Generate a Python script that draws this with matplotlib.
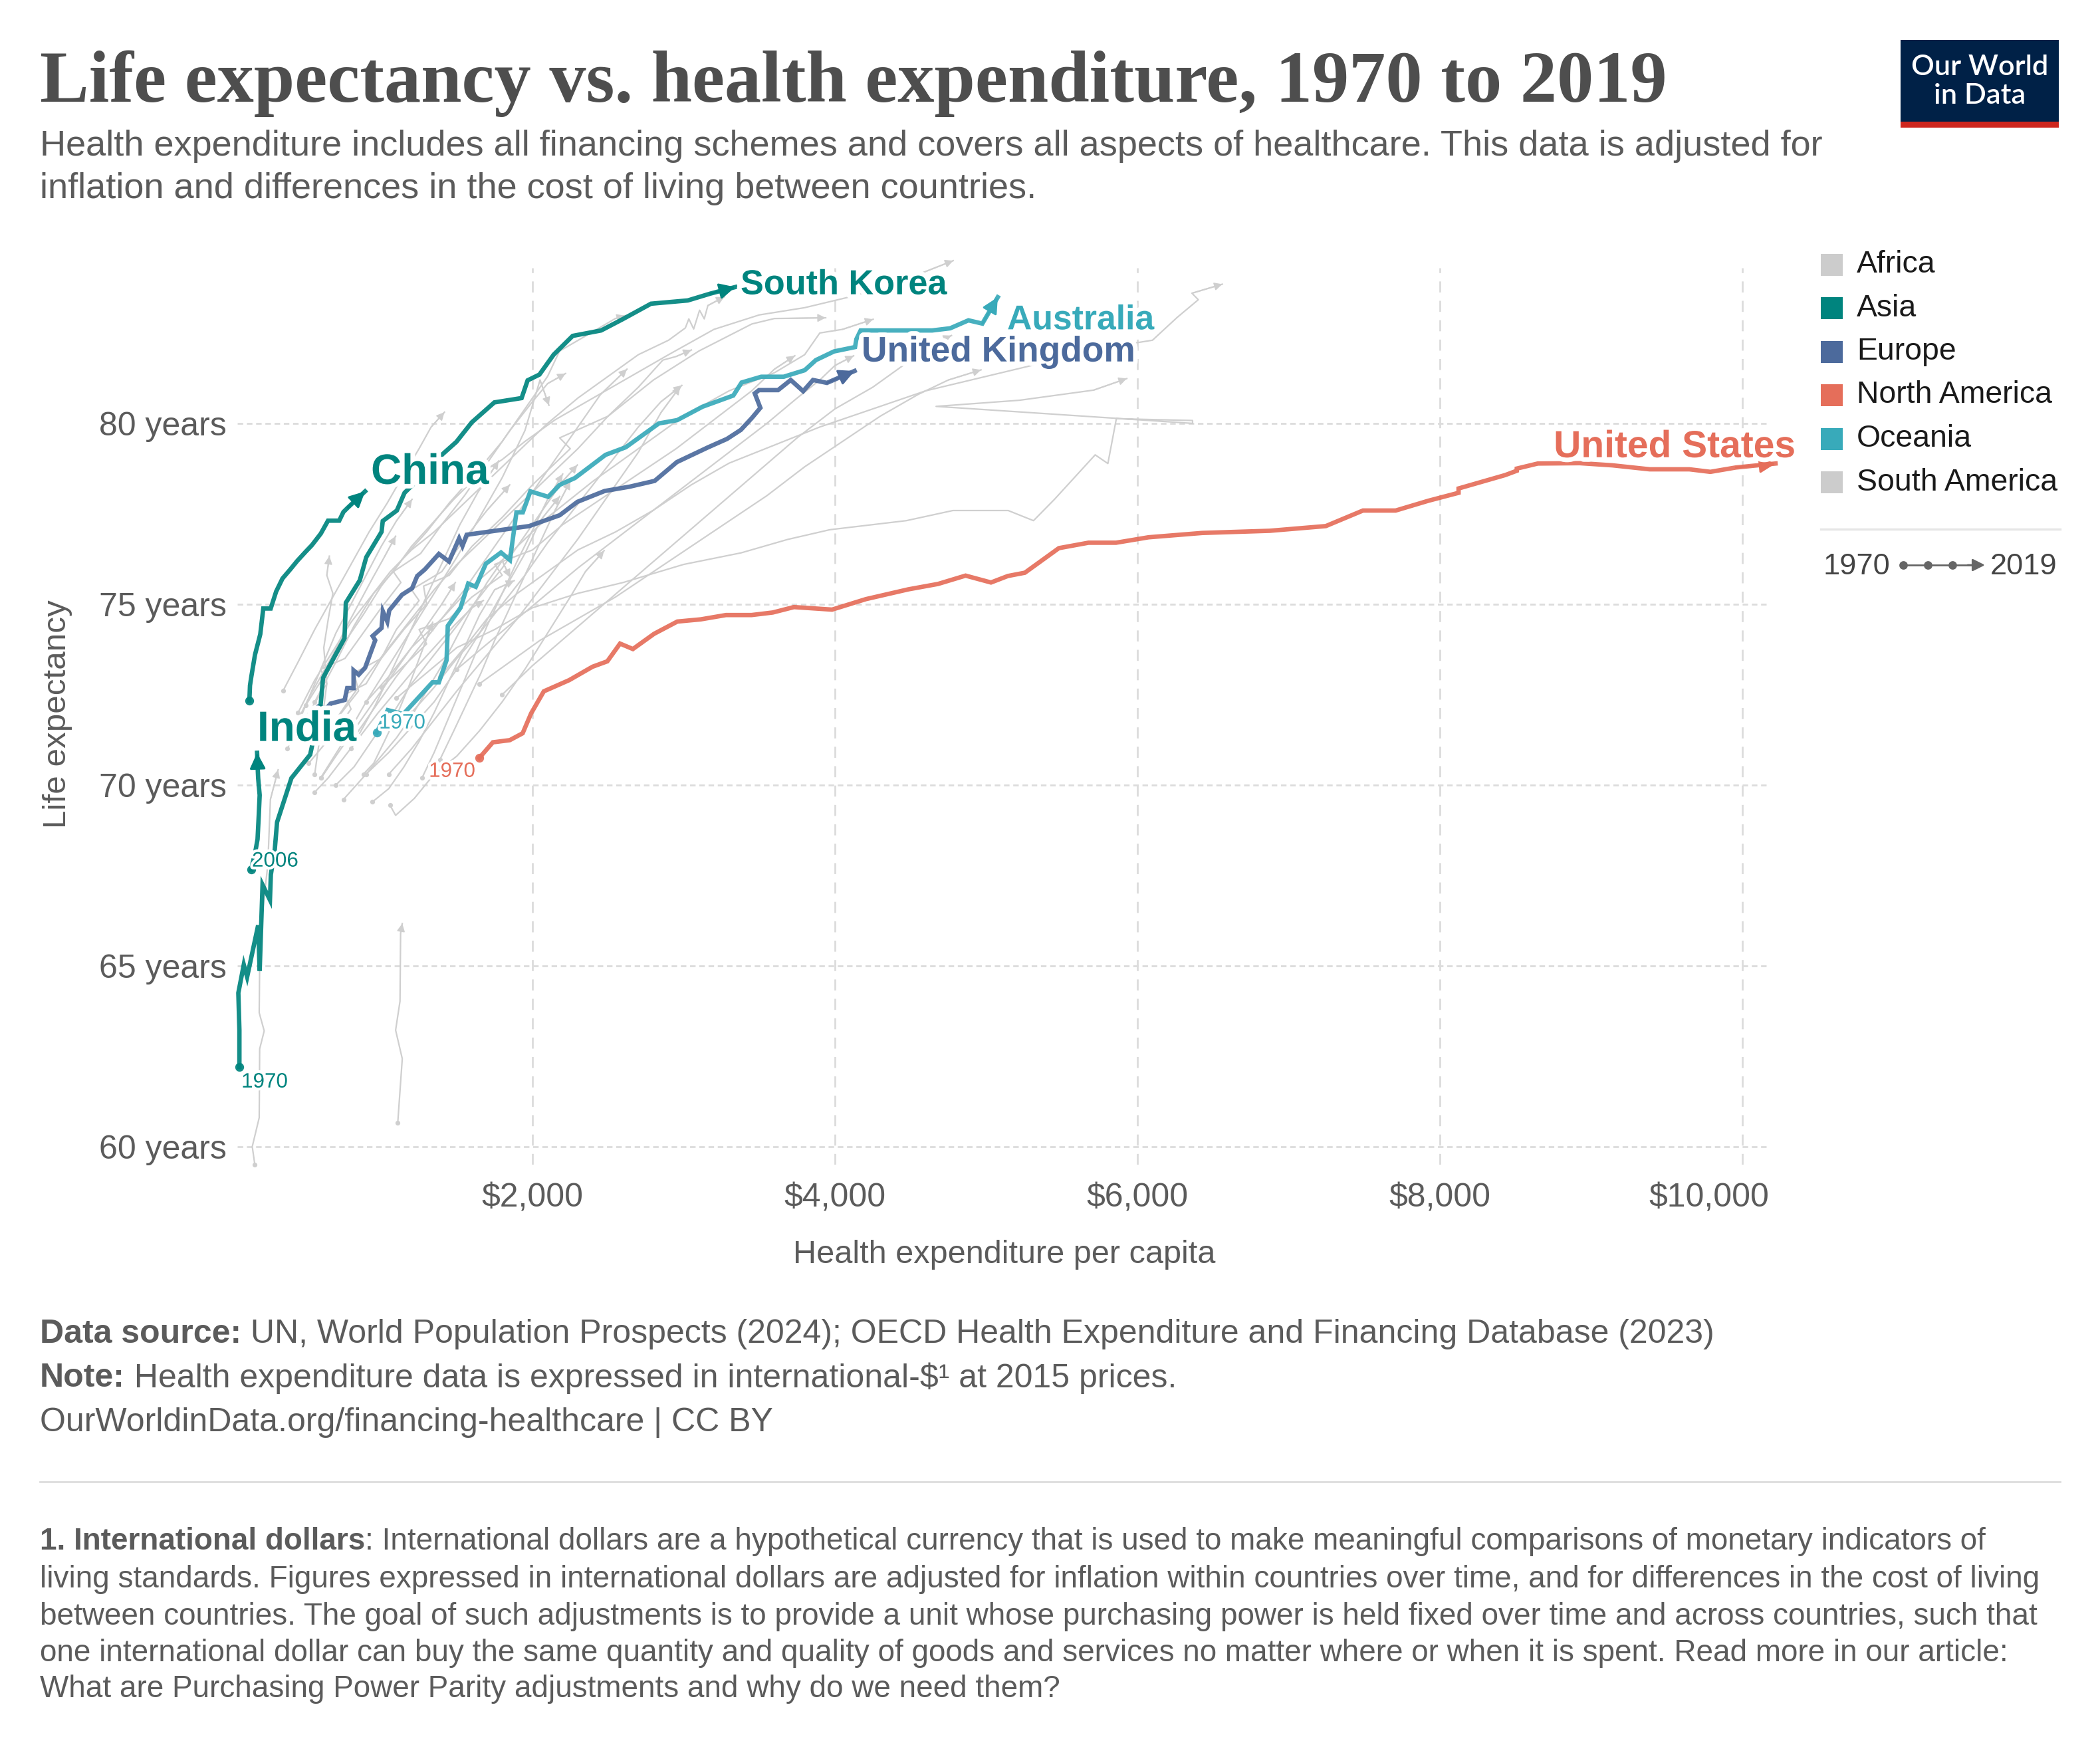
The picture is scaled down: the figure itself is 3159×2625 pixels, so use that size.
import matplotlib
matplotlib.use('Agg')
import matplotlib.pyplot as plt
from matplotlib.patches import Rectangle
from matplotlib.transforms import ScaledTranslation
import matplotlib.patheffects as pe

plt.rcParams['font.family'] = ['Liberation Sans', 'DejaVu Sans']
plt.rcParams['text.parse_math'] = False

# ---------------- data ----------------
X_TICKS = [2000, 4000, 6000, 8000, 10000]
X_TICK_LABELS = ['$2,000', '$4,000', '$6,000', '$8,000', '$10,000']
Y_TICKS = [60, 65, 70, 75, 80]

LEGEND_LABELS = ['Africa', 'Asia', 'Europe', 'North America', 'Oceania', 'South America']
LEGEND_COLORS = ['#cccccc', '#00847e', '#4c6a9c', '#e56e5a', '#38aaba', '#cccccc']

SK_X = [62, 62, 55, 91, 113, 186, 196, 215, 264, 270, 296, 311, 406, 530, 598, 615, 757, 766, 858, 901,
        1002, 1010, 1103, 1154, 1280, 1406, 1497, 1599, 1748, 1928, 1968, 2046, 2140, 2266, 2454, 2596,
        2784, 3027, 3177, 3341]
SK_Y = [62.2, 63.22, 64.25, 65.03, 64.69, 66.12, 64.86, 67.24, 66.82, 67.52, 68.22, 68.97, 70.19, 70.84,
        72.16, 72.96, 74.06, 75.04, 75.66, 76.3, 77.0, 77.3, 77.59, 78.08, 78.6, 79.15, 79.49, 80.03,
        80.58, 80.7, 81.19, 81.35, 81.9, 82.42, 82.57, 82.88, 83.31, 83.4, 83.59, 83.77]

CN_X = [128, 132, 141, 165, 200, 220, 269, 305, 347, 400, 445, 500, 541, 600, 648, 722, 750, 779, 893]
CN_Y = [72.33, 72.75, 73.0, 73.6, 74.17, 74.88, 74.88, 75.35, 75.71, 75.97, 76.2, 76.45, 76.63, 76.95,
        77.31, 77.31, 77.55, 77.67, 78.12]

IN_X = [142, 150, 164, 182, 190, 196, 190, 186, 182, 179]
IN_Y = [67.66, 67.85, 68.08, 68.5, 69.16, 69.72, 70.0, 70.19, 70.56, 70.89]

UK_X = [590, 640, 665, 758, 775, 817, 817, 851, 893, 960, 943, 1002, 1011, 1040, 1053, 1137, 1204, 1238,
        1288, 1381, 1448, 1515, 1537, 1565, 1978, 2180, 2297, 2477, 2643, 2808, 2955, 3157, 3286, 3378,
        3451, 3507, 3470, 3498, 3624, 3708, 3790, 3855, 3947, 4130]
UK_Y = [72.13, 72.13, 72.25, 72.35, 72.68, 72.68, 73.17, 73.05, 73.24, 74.0, 74.12, 74.34, 74.8, 74.52,
        74.83, 75.26, 75.44, 75.78, 75.96, 76.39, 76.18, 76.82, 76.61, 76.92, 77.16, 77.46, 77.83, 78.13,
        78.25, 78.41, 78.93, 79.33, 79.57, 79.82, 80.15, 80.43, 80.83, 80.92, 80.92, 81.2, 80.89, 81.2,
        81.12, 81.45]

AU_X = [970, 1043, 1146, 1339, 1381, 1432, 1440, 1524, 1575, 1625, 1692, 1792, 1851, 1894, 1936, 1986,
        2104, 2180, 2281, 2483, 2617, 2836, 2957, 3124, 3328, 3383, 3513, 3661, 3800, 3874, 3994, 4133,
        4142, 4170, 4643, 4762, 4883, 4975, 5077]
AU_Y = [71.45, 72.07, 71.96, 72.84, 72.84, 73.45, 74.4, 74.9, 75.57, 75.48, 76.12, 76.43, 76.22, 77.54,
        77.54, 78.12, 77.97, 78.3, 78.49, 79.13, 79.34, 80.0, 80.09, 80.46, 80.77, 81.13, 81.29, 81.29,
        81.47, 81.75, 81.99, 82.11, 82.33, 82.57, 82.57, 82.63, 82.85, 82.76, 83.49]

US_X = [1649, 1738, 1850, 1935, 1991, 2075, 2243, 2397, 2495, 2579, 2664, 2804, 2958, 3112, 3280, 3449,
        3589, 3729, 3981, 4205, 4485, 4682, 4864, 5032, 5144, 5256, 5481, 5677, 5859, 6074, 6429, 6876,
        7246, 7492, 7708, 7924, 8124, 8124, 8432, 8509, 8509, 8648, 8925, 9141, 9388, 9650, 9789, 9958,
        10220]
US_Y = [70.75, 71.18, 71.24, 71.43, 71.98, 72.59, 72.9, 73.27, 73.42, 73.91, 73.76, 74.18, 74.52, 74.58,
        74.7, 74.7, 74.77, 74.92, 74.85, 75.14, 75.41, 75.56, 75.79, 75.6, 75.78, 75.87, 76.55, 76.7,
        76.7, 76.85, 76.97, 77.03, 77.16, 77.59, 77.59, 77.86, 78.08, 78.2, 78.57, 78.69, 78.75, 78.89,
        78.9, 78.84, 78.73, 78.73, 78.66, 78.78, 78.89]

# background (grey) countries
GRAY_X = [
    [560, 700, 820, 950, 1080, 1200, 1330, 1480, 1650, 1800, 1950, 2150, 2400, 2650, 2900, 3200, 3500, 3800, 4100, 4350, 4557, 4782],
    [1390, 1550, 1700, 1900, 2100, 2300, 2550, 2800, 3050, 3300, 3600, 3900, 4250, 4600, 5000, 5400, 5800, 6100, 6263, 6403, 6361, 6562],
    [1100, 1300, 1500, 1750, 2000, 2300, 2600, 3000, 3380, 3687, 3967, 4472, 4780, 5146, 5313, 5452, 5721, 5805, 5861, 6365, 6365, 4669, 5221, 5711, 5930],
    [450, 560, 680, 800, 930, 1060, 1200, 1350, 1500, 1650, 1800, 1950, 2100, 2300, 2500, 2700, 2900, 3011, 3034, 3066, 3105, 3136, 3160, 3269],
    [700, 850, 820, 1000, 1150, 1300, 1280, 1450, 1600, 1800, 2000, 2250, 2180, 2500, 2800, 3100, 3451, 3600, 3939],
    [900, 1050, 1200, 1400, 1600, 1850, 2100, 2400, 2700, 3000, 3300, 3600, 3800, 3900, 4050, 4253],
    [500, 620, 750, 880, 1000, 1150, 1300, 1450, 1620, 1800, 1950, 2100, 2179, 2344, 2548, 2611],
    [650, 780, 900, 1050, 1200, 1350, 1500, 1700, 1900, 2100, 2300, 2500, 2700, 2862, 2950, 3051],
    [400, 520, 640, 600, 760, 880, 1000, 1130, 1080, 1260, 1400, 1550, 1700, 1850, 2000, 2100, 2219],
    [1200, 1350, 1500, 1650, 1800, 1950, 2100, 2250, 2400, 2550, 2700, 2850, 2988],
    [1000, 1150, 1300, 1250, 1450, 1600, 1800, 1750, 2000, 2200, 2450, 2700, 2950, 3200, 3450, 3600, 3735],
    [1500, 1700, 1900, 2100, 2300, 2550, 2800, 3050, 3300, 3550, 3750, 3900, 4000, 4124],
    [1800, 2000, 2250, 2500, 2750, 3000, 3250, 3500, 3750, 4000, 4250, 4450, 4600, 4771],
    [1650, 1850, 2050, 2300, 2550, 2800, 3050, 3300, 3550, 3800, 4050, 4300, 4550, 4750, 4966],
    [800, 950, 1100, 1250, 1400, 1550, 1700, 1850, 2000, 2150, 2300, 2450, 2625],
    [1050, 1200, 1350, 1500, 1700, 1900, 2100, 2300, 2500, 2700, 2850, 2977],
    [600, 750, 900, 1050, 1200, 1350, 1500, 1650, 1800, 1950, 2050, 2109],
    [350, 450, 560, 680, 800, 920, 1040, 1150, 1250, 1330, 1418],
    [700, 820, 950, 1080, 1200, 1350, 1500, 1650, 1800, 1950, 2100, 2200, 2297],
    [750, 900, 1050, 1200, 1350, 1500, 1650, 1800, 1950, 2050, 2180],
    [1058, 1095, 1219, 1350, 1500, 1650, 1800, 1950, 2100, 2250, 2350, 2474],
    [900, 1000, 1100, 1200, 1300, 1400, 1500, 1600, 1700, 1800, 1852],
    [560, 650, 760, 870, 980, 1100, 1220, 1350, 1480, 1600, 1675],
    [450, 520, 600, 680, 760, 850, 940, 1020, 1095],
    [380, 460, 540, 620, 700, 800, 900, 1000, 1100, 1204],
    [560, 600, 640, 620, 650, 680, 640, 657],
    [164, 147, 193, 196, 226, 193, 196, 215, 250, 267, 318],
    [1109, 1139, 1095, 1124, 1128, 1139],
    [520, 600, 700, 800, 760, 900, 1000, 1100, 1250, 1200, 1400, 1550, 1700, 1850],
    [800, 880, 960, 1040, 1130, 1220, 1320, 1420, 1520, 1640, 1776],
    [1270, 1350, 1430, 1520, 1610, 1700, 1800, 1900, 1995, 2100, 2200],
    [1388, 1480, 1570, 1660, 1750, 1850, 1950, 2050, 2150, 2250],
    [604, 700, 800, 900, 1000, 1100, 1200, 1300, 1400, 1490],
    [882, 950, 1020, 1100, 1180, 1260, 1340],
    [941, 1050, 1150, 1250, 1350, 1450, 1550, 1650, 1750, 1879],
]
GRAY_Y = [
    [72.3, 73.4, 74.4, 75.3, 75.9, 76.6, 77.2, 77.9, 78.6, 79.0, 79.5, 80.1, 80.7, 81.3, 81.9, 82.6, 83.0, 83.2, 83.5, 83.8, 84.13, 84.5],
    [73.0, 73.8, 74.6, 75.3, 75.9, 76.5, 77.0, 77.6, 78.3, 78.9, 79.4, 79.9, 80.4, 80.9, 81.3, 81.7, 82.1, 82.3, 82.93, 83.42, 83.6, 83.85],
    [72.4, 73.1, 73.8, 74.3, 74.9, 75.3, 75.6, 76.1, 76.42, 76.79, 77.06, 77.31, 77.59, 77.59, 77.31, 77.9, 79.13, 78.89, 80.13, 80.08, 80.0, 80.47, 80.64, 80.92, 81.24],
    [72.0, 72.9, 73.7, 74.5, 75.2, 75.9, 76.5, 77.0, 77.6, 78.2, 78.8, 79.4, 80.0, 80.7, 81.3, 81.9, 82.3, 82.64, 82.89, 82.61, 83.13, 82.89, 83.26, 83.5],
    [71.8, 72.6, 73.1, 73.5, 74.3, 75.0, 75.5, 75.8, 76.6, 77.4, 78.3, 79.3, 79.6, 80.2, 81.2, 82.0, 82.75, 82.9, 82.92],
    [72.3, 73.0, 73.8, 74.6, 75.5, 76.4, 77.4, 78.4, 79.3, 80.2, 80.9, 81.4, 81.9, 82.5, 82.6, 82.88],
    [72.2, 73.0, 73.9, 74.7, 75.5, 76.3, 77.0, 77.8, 78.6, 79.5, 80.4, 81.3, 82.0, 82.4, 82.9, 82.98],
    [71.5, 72.3, 73.0, 73.8, 74.6, 75.4, 76.1, 76.9, 77.7, 78.5, 79.3, 80.2, 81.0, 81.75, 81.85, 82.03],
    [71.3, 72.0, 72.8, 73.2, 73.5, 74.2, 74.9, 75.6, 75.9, 76.4, 77.2, 78.0, 78.9, 79.8, 80.6, 81.1, 81.38],
    [72.0, 72.7, 73.5, 74.2, 75.0, 75.8, 76.7, 77.5, 78.3, 79.1, 79.9, 80.6, 81.05],
    [72.7, 73.3, 73.9, 74.3, 74.6, 75.2, 75.8, 76.1, 76.5, 77.2, 77.9, 78.6, 79.3, 80.1, 80.9, 81.5, 81.87],
    [73.2, 73.9, 74.6, 75.3, 76.0, 76.8, 77.6, 78.4, 79.2, 80.0, 80.7, 81.2, 81.6, 81.87],
    [72.5, 73.3, 74.2, 75.1, 76.0, 76.9, 77.8, 78.7, 79.6, 80.4, 81.0, 81.6, 82.1, 82.43],
    [72.8, 73.4, 74.0, 74.6, 75.2, 75.9, 76.6, 77.3, 78.0, 78.8, 79.5, 80.2, 80.8, 81.2, 81.48],
    [71.2, 72.1, 73.0, 73.8, 74.6, 75.4, 76.3, 77.2, 78.1, 79.0, 79.9, 80.8, 81.5],
    [70.3, 71.0, 71.8, 72.6, 73.6, 74.6, 75.7, 76.8, 78.0, 79.2, 80.3, 81.02],
    [70.2, 71.2, 72.3, 73.3, 74.3, 75.3, 76.3, 77.4, 78.5, 79.8, 81.2, 80.5],
    [72.6, 73.4, 74.3, 75.2, 76.1, 77.0, 77.8, 78.6, 79.3, 79.9, 80.31],
    [70.0, 70.5, 71.3, 72.0, 72.8, 73.6, 74.4, 75.2, 76.0, 76.9, 77.8, 78.4, 78.85],
    [69.6, 70.3, 70.9, 71.6, 72.3, 73.2, 74.2, 75.3, 76.4, 77.3, 77.98],
    [69.44, 69.16, 69.63, 70.3, 70.8, 71.5, 72.3, 73.2, 74.2, 75.2, 75.9, 76.48],
    [70.3, 70.8, 71.3, 71.9, 72.6, 73.3, 74.1, 74.9, 75.6, 76.2, 75.74],
    [69.8, 70.2, 70.8, 71.4, 72.0, 72.6, 73.2, 73.8, 74.4, 74.9, 75.1],
    [71.8, 72.4, 73.0, 73.6, 74.3, 75.0, 75.7, 76.3, 76.88],
    [71.0, 71.8, 72.6, 73.4, 74.2, 75.0, 75.8, 76.6, 77.3, 77.9],
    [70.3, 71.5, 72.8, 73.8, 74.6, 75.3, 75.8, 76.33],
    [59.5, 60.0, 60.8, 62.7, 63.2, 63.7, 65.1, 66.5, 67.8, 69.6, 70.42],
    [60.65, 62.43, 63.22, 64.02, 65.9, 66.17],
    [70.6, 71.0, 71.5, 72.1, 72.5, 72.8, 73.5, 74.3, 75.1, 75.4, 75.9, 76.8, 77.6, 78.3],
    [71.0, 71.6, 72.2, 72.9, 73.7, 74.5, 75.4, 76.3, 77.2, 78.1, 78.96],
    [70.2, 70.9, 71.7, 72.6, 73.5, 74.4, 75.3, 76.2, 77.0, 77.9, 78.6],
    [70.7, 71.5, 72.3, 73.1, 74.0, 74.9, 75.8, 76.7, 77.6, 78.4],
    [70.2, 70.8, 71.4, 72.0, 72.6, 73.2, 73.8, 74.4, 75.0, 75.6],
    [70.3, 70.6, 71.2, 71.9, 72.7, 73.6, 74.5],
    [69.53, 69.9, 70.5, 71.2, 72.0, 72.9, 73.8, 74.7, 75.4, 75.65],
]

# ---------------- layout ----------------
W, H, DPI = 3159, 2625, 200
fig = plt.figure(figsize=(W / DPI, H / DPI), dpi=DPI)
fig.patch.set_facecolor('white')

XMIN, XMAX, YMIN, YMAX = 50, 10180, 59.5, 84.3
L, R, T, B = 357.4, 2661.8, 403, 1752
ax = fig.add_axes([L / W, 1 - B / H, (R - L) / W, (B - T) / H])
ax.set_xlim(XMIN, XMAX)
ax.set_ylim(YMIN, YMAX)
ax.patch.set_alpha(0)
for s in ax.spines.values():
    s.set_visible(False)
ax.tick_params(length=0)
TICK_FS = 18
ax.set_xticks(X_TICKS)
# last label is right-aligned to the plot edge (as in the original)
ax.set_xticklabels(X_TICK_LABELS[:-1] + [''], fontsize=TICK_FS, color='#5b5b5b')
ax.text(XMAX, 0, X_TICK_LABELS[-1], fontsize=TICK_FS, color='#5b5b5b', ha='right', va='top',
        transform=ax.get_xaxis_transform() + ScaledTranslation(0, -10 / 72, fig.dpi_scale_trans))
ax.set_yticks(Y_TICKS)
ax.set_yticklabels([f'{v} years' for v in Y_TICKS], fontsize=TICK_FS, color='#5b5b5b')
ax.tick_params(axis='x', pad=10)
ax.tick_params(axis='y', pad=6)
for v in Y_TICKS:
    ax.axhline(v, color='#dcdcdc', lw=1.0, dashes=(3, 2), zorder=0)
for v in X_TICKS:
    ax.axvline(v, color='#dcdcdc', lw=1.0, dashes=(6, 4.5), zorder=0)

GRAY = '#cfcfcf'


def arrowhead(x0, y0, x1, y1, color, size, lw, z):
    ax.annotate('', xy=(x1, y1), xytext=(x0, y0),
                arrowprops=dict(arrowstyle='-|>', color=color, lw=lw, mutation_scale=size,
                                shrinkA=0, shrinkB=0),
                zorder=z, annotation_clip=False)


for xs, ys in zip(GRAY_X, GRAY_Y):
    ax.plot(xs, ys, color=GRAY, lw=0.8, zorder=1, clip_on=False)
    ax.plot(xs[0], ys[0], 'o', ms=2.6, color=GRAY, mec='none', zorder=1, clip_on=False)
    arrowhead(xs[-2], ys[-2], xs[-1], ys[-1], GRAY, 9, 0.6, 1)

ASIA, EUROPE, NAM, OCE = '#00847e', '#4c6a9c', '#e56e5a', '#38aaba'
HIGHLIGHT = [
    (US_X, US_Y, NAM),
    (UK_X, UK_Y, EUROPE),
    (AU_X, AU_Y, OCE),
    (SK_X, SK_Y, ASIA),
    (CN_X, CN_Y, ASIA),
    (IN_X, IN_Y, ASIA),
]
for xs, ys, col in HIGHLIGHT:
    ax.plot(xs, ys, color=col, lw=2.4, alpha=0.92, zorder=3, clip_on=False,
            solid_joinstyle='miter')
    ax.plot(xs[0], ys[0], 'o', ms=4.8, color=col, mec='none', alpha=0.92, zorder=3, clip_on=False)
    arrowhead(xs[-2], ys[-2], xs[-1], ys[-1], col, 18, 1.2, 3)

halo = [pe.withStroke(linewidth=5, foreground='white')]
small_halo = [pe.withStroke(linewidth=3, foreground='white')]


def label(x, y, s, col, size, ha='left', weight='bold', eff=halo):
    ax.text(x, y, s, color=col, fontsize=size, fontweight=weight, ha=ha, va='center',
            path_effects=eff, zorder=6, clip_on=False)


label(3376, 83.82, 'South Korea', ASIA, 18.8)
label(5139, 82.85, 'Australia', OCE, 18.6)
label(4176, 81.97, 'United Kingdom', EUROPE, 19.2)
label(932, 78.64, 'China', ASIA, 23)
label(180, 71.53, 'India', ASIA, 23)
label(8753, 79.34, 'United States', NAM, 20.5)
label(75, 61.78, '1970', ASIA, 11.3, weight='normal', eff=small_halo)
label(145, 67.89, '2006', ASIA, 11.3, weight='normal', eff=small_halo)
label(985, 71.71, '1970', OCE, 11.3, weight='normal', eff=small_halo)
label(1622, 70.37, '1970', NAM, 11.3, ha='right', weight='normal', eff=small_halo)

# ---------------- overlay (pixel coordinates) ----------------
ov = fig.add_axes([0, 0, 1, 1])
ov.set_xlim(0, W)
ov.set_ylim(H, 0)
ov.axis('off')
ov.patch.set_alpha(0)
renderer = fig.canvas.get_renderer()


def width_of(t):
    return t.get_window_extent(renderer).width


def fit(t, target):
    t.set_fontsize(t.get_fontsize() * target / width_of(t))
    return t


TXT = '#5b5b5b'
title = ov.text(60, 153, 'Life expectancy vs. health expenditure, 1970 to 2019',
                family=['Liberation Serif', 'DejaVu Serif'], fontweight='bold', color='#4e4e4e',
                fontsize=30, ha='left', va='baseline')
fit(title, 2449)

sub1 = ov.text(60, 220, 'Health expenditure includes all financing schemes and covers all aspects of '
               'healthcare. This data is adjusted for', color=TXT, fontsize=18, ha='left', va='center')
fit(sub1, 2687)
ov.text(60, 284, 'inflation and differences in the cost of living between countries.', color=TXT,
        fontsize=sub1.get_fontsize(), ha='left', va='center')

# axis titles
ov.text(1511, 1888, 'Health expenditure per capita', color=TXT, fontsize=17.5, ha='center', va='center')
ov.text(87, 1074, 'Life expectancy', color=TXT, fontsize=17.8, ha='center', va='center', rotation=90)

# legend
for i, (lab, col) in enumerate(zip(LEGEND_LABELS, LEGEND_COLORS)):
    cy = 398 + i * 65.5
    ov.add_patch(Rectangle((2739, cy - 16.5), 33, 33, color=col, lw=0))
    ov.text(2793, cy, lab, color='#1a1a1a', fontsize=16.7, ha='left', va='center')
ov.plot([2739, 3099], [796, 796], color='#e6e6e6', lw=1.2)
ov.text(2742, 852, '1970', color='#444444', fontsize=16.3, ha='left', va='center')
ov.plot([2863, 2975], [850, 850], color='#666666', lw=1.0)
ov.plot([2863, 2900, 2937], [850, 850, 850], 'o', color='#666666', ms=3.6)
ov.annotate('', xy=(2986, 850), xytext=(2960, 850),
            arrowprops=dict(arrowstyle='-|>', color='#666666', lw=1, mutation_scale=14,
                            shrinkA=0, shrinkB=0))
ov.text(2994, 852, '2019', color='#444444', fontsize=16.3, ha='left', va='center')

# logo
ov.add_patch(Rectangle((2859, 60), 238, 126, color='#002147', lw=0))
ov.add_patch(Rectangle((2859, 183), 238, 9, color='#ce261e', lw=0))
lg1 = ov.text(2978, 101, 'Our World', color='white', fontsize=14, fontweight='semibold',
              family=['Lato', 'Liberation Sans'], ha='center', va='center')
fit(lg1, 206)
ov.text(2978, 144, 'in Data', color='white', fontsize=lg1.get_fontsize(), fontweight='semibold',
        family=['Lato', 'Liberation Sans'], ha='center', va='center')

# footer
f3 = ov.text(60, 2140, 'OurWorldinData.org/financing-healthcare | CC BY', color=TXT, fontsize=16,
             ha='left', va='center')
fit(f3, 1102)
FS = f3.get_fontsize()


def mixed(x, y, bold, rest, size):
    t = ov.text(x, y, bold, color=TXT, fontsize=size, fontweight='bold', ha='left', va='center')
    w = width_of(t)
    ov.text(x + w, y, rest, color=TXT, fontsize=size, ha='left', va='center')


mixed(60, 2007, 'Data source:', ' UN, World Population Prospects (2024); OECD Health Expenditure and '
      'Financing Database (2023)', FS)
mixed(60, 2073, 'Note:', ' Health expenditure data is expressed in international-$\u00b9 at 2015 prices.', FS)

ov.plot([60, 3099], [2229, 2229], color='#dddddd', lw=1.0)

fn3 = ov.text(60, 2432, 'between countries. The goal of such adjustments is to provide a unit whose '
              'purchasing power is held fixed over time and across countries, such that', color=TXT,
              fontsize=14, ha='left', va='center')
fit(fn3, 3003)
FN = fn3.get_fontsize()
mixed(60, 2319, '1. International dollars', ': International dollars are a hypothetical currency that is '
      'used to make meaningful comparisons of monetary indicators of', FN)
ov.text(60, 2376, 'living standards. Figures expressed in international dollars are adjusted for inflation '
        'within countries over time, and for differences in the cost of living', color=TXT, fontsize=FN,
        ha='left', va='center')
ov.text(60, 2487, 'one international dollar can buy the same quantity and quality of goods and services no '
        'matter where or when it is spent. Read more in our article:', color=TXT, fontsize=FN,
        ha='left', va='center')
ov.text(60, 2541, 'What are Purchasing Power Parity adjustments and why do we need them?', color=TXT,
        fontsize=FN, ha='left', va='center')

fig.savefig('out.png', dpi=DPI, facecolor='white')
